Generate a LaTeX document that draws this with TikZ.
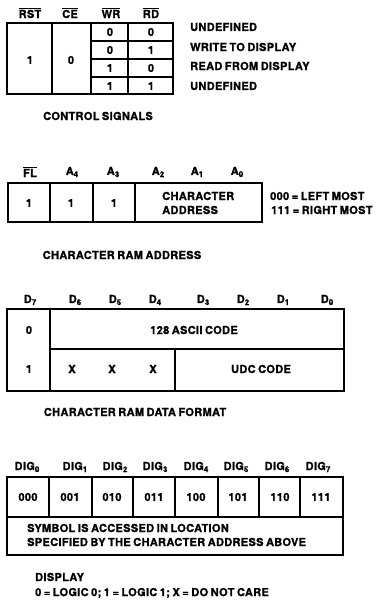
\documentclass[tikz,border=0pt]{standalone}
\usepackage{fontspec}
\setmainfont{TeX Gyre Heros}[BoldFeatures={FakeBold=1.2,LetterSpace=3,WordSpace=0.75}]
\newcommand\sbs[1]{\raisebox{-0.35ex}{\fontsize{8}{8}\selectfont #1}}
\newcommand\ovl[1]{$\overline{\hbox{#1}}$}
\tikzset{
  lbl/.style={font=\fontsize{11}{14}\selectfont\bfseries, inner sep=0pt},
  outerbox/.style={line width=1.9pt},
  innerline/.style={line width=1.2pt},
}
\begin{document}
\begin{tikzpicture}[x=1pt,y=-1pt]
\useasboundingbox (0,0) rectangle (381,601);
% ---------- control signals ----------
\node[lbl] (hRST) at (30,13) {\ovl{RST}};
\node[lbl] (hCE) at (70,13) {\ovl{CE}};
\node[lbl] (hWR) at (111,13) {\ovl{WR}};
\node[lbl] (hRD) at (151,13) {\ovl{RD}};
\draw[outerbox] (7,23) rectangle (173,94);
\draw[innerline] (52,23) -- (52,94) (91,23) -- (91,94) (128,23) -- (128,94);
\draw[innerline] (91,41) -- (173,41) (91,59) -- (173,59) (91,77) -- (173,77);
\node[lbl] (c1) at (30,60) {1};
\node[lbl] (c0) at (71,60) {0};
\node[lbl] (r1a) at (110,32) {0};
\node[lbl] (r1b) at (151,32) {0};
\node[lbl] (r2a) at (110,50) {0};
\node[lbl] (r2b) at (151,50) {1};
\node[lbl] (r3a) at (110,68) {1};
\node[lbl] (r3b) at (151,68) {0};
\node[lbl] (r4a) at (110,86) {1};
\node[lbl] (r4b) at (151,86) {1};
\node[lbl,anchor=west] (m1) at (190,27) {UNDEFINED};
\node[lbl,anchor=west] (m2) at (190,47) {WRITE TO DISPLAY};
\node[lbl,anchor=west] (m3) at (190,66) {READ FROM DISPLAY};
\node[lbl,anchor=west] (m4) at (190,86) {UNDEFINED};
\node[lbl] (t1) at (98,116) {CONTROL SIGNALS};
% ---------- character RAM address ----------
\node[lbl] (hFL) at (30,172) {\ovl{FL}};
\node[lbl] (hA4) at (72,172) {A\sbs{4}};
\node[lbl] (hA3) at (113,172) {A\sbs{3}};
\node[lbl] (hA2) at (158,172) {A\sbs{2}};
\node[lbl] (hA1) at (197,172) {A\sbs{1}};
\node[lbl] (hA0) at (237,172) {A\sbs{0}};
\draw[outerbox] (8,183) rectangle (262,222);
\draw[innerline] (50,183) -- (50,222) (93,183) -- (93,222) (135,183) -- (135,222);
\node[lbl] (a1) at (29,203) {1};
\node[lbl] (a2) at (71,203) {1};
\node[lbl] (a3) at (114,203) {1};
\node[lbl,anchor=west,align=left] (ca) at (162,203) {CHARACTER\\ADDRESS};
\node[lbl,anchor=west] (lm) at (270,196) {000 = LEFT MOST};
\node[lbl,anchor=west] (rm) at (271,210) {111 = RIGHT MOST};
\node[lbl] (t2) at (122,255) {CHARACTER RAM ADDRESS};
% ---------- character RAM data format ----------
\node[lbl] (hD7) at (30,300) {D\sbs{7}};
\node[lbl] (hD6) at (75,300) {D\sbs{6}};
\node[lbl] (hD5) at (115,300) {D\sbs{5}};
\node[lbl] (hD4) at (155,300) {D\sbs{4}};
\node[lbl] (hD3) at (203,300) {D\sbs{3}};
\node[lbl] (hD2) at (243,300) {D\sbs{2}};
\node[lbl] (hD1) at (283,300) {D\sbs{1}};
\node[lbl] (hD0) at (327,300) {D\sbs{0}};
\draw[outerbox] (7,309) rectangle (344,391);
\draw[innerline] (50,309) -- (50,391) (50,349) -- (344,349) (175,349) -- (175,391);
\node[lbl] (d0) at (29,330) {0};
\node[lbl] (ascii) at (194,330) {128 ASCII CODE};
\node[lbl] (d1) at (29,369) {1};
\node[lbl] (x1) at (72,369) {X};
\node[lbl] (x2) at (112,369) {X};
\node[lbl] (x3) at (153,369) {X};
\node[lbl] (udc) at (261,369) {UDC CODE};
\node[lbl] (t3) at (135,412) {CHARACTER RAM DATA FORMAT};
% ---------- display ----------
\foreach \i/\x in {0/27,1/75,2/115,3/155,4/196,5/236,6/277,7/318}
  \node[lbl] (hDIG\i) at (\x,467) {DIG\sbs{\i}};
\draw[outerbox] (7,477) rectangle (343,555);
\draw[innerline] (7,517) -- (343,517);
\foreach \x in {49,92,133,175,218,259,300}
  \draw[innerline] (\x,477) -- (\x,517);
\foreach \i/\v/\x in {0/000/28,1/001/70,2/010/112,3/011/154,4/100/196,5/101/238,6/110/280,7/111/321}
  \node[lbl] (v\i) at (\x,497) {\v};
\node[lbl,anchor=west,align=left] (sym) at (27,535) {SYMBOL IS ACCESSED IN LOCATION\\SPECIFIED BY THE CHARACTER ADDRESS ABOVE};
\node[lbl,anchor=west] (t4) at (35,577) {DISPLAY};
\node[lbl,anchor=west] (t5) at (35,593) {0 = LOGIC 0; 1 = LOGIC 1; X = DO NOT CARE};
\end{tikzpicture}
\end{document}
